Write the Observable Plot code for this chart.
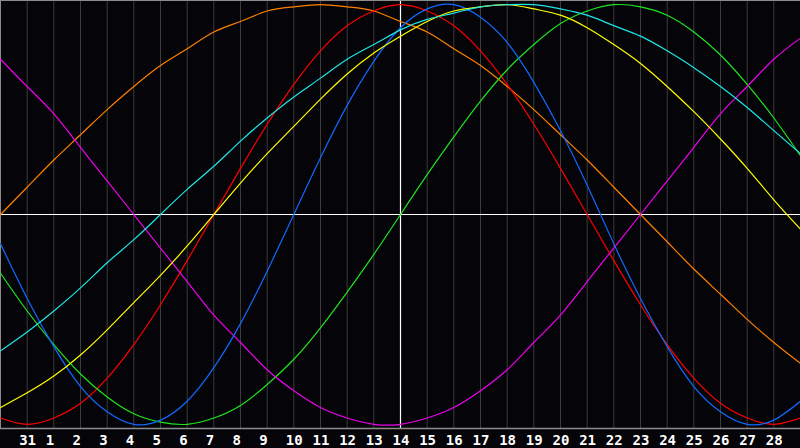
<!DOCTYPE html>
<html>
<head>
<meta charset="utf-8">
<script src="https://cdn.jsdelivr.net/npm/d3@7"></script>
<script src="https://cdn.jsdelivr.net/npm/@observablehq/plot@0.6"></script>
<style>
  html, body { margin: 0; padding: 0; background: #050408; }
  svg { display: block; }
  svg text { font-family: 'DejaVu Sans Mono', monospace; font-weight: bold; font-size: 14px; }
</style>
</head>
<body>
<div id="chart"></div>
<script>
// Day labels for each column (index 0 = Jan 30 ... index 30 = Mar 1)
const days = ["30","31","1","2","3","4","5","6","7","8","9","10","11","12","13","14","15","16","17","18","19","20","21","22","23","24","25","26","27","28","1"];
const labeledIdx = [1,2,3,4,5,6,7,8,9,10,11,12,13,14,15,16,17,18,19,20,21,22,23,24,25,26,27,28,29];
const todayIdx = 15;

// Cycle values per day (-1 .. 1)
const physical     = [-0.14,-0.40,-0.63,-0.82,-0.94,-1.00,-0.98,-0.89,-0.73,-0.52,-0.27,0,0.27,0.52,0.73,0.89,0.98,1.00,0.94,0.82,0.63,0.40,0.14,-0.14,-0.40,-0.63,-0.82,-0.94,-1.00,-0.98,-0.89];
const emotional    = [-0.97,-1.00,-0.97,-0.90,-0.78,-0.62,-0.43,-0.22,0,0.22,0.43,0.62,0.78,0.90,0.97,1.00,0.97,0.90,0.78,0.62,0.43,0.22,0,-0.22,-0.43,-0.62,-0.78,-0.90,-0.97,-1.00,-0.97];
const intellectual = [-0.28,-0.46,-0.62,-0.76,-0.87,-0.95,-0.99,-1.00,-0.97,-0.91,-0.81,-0.69,-0.54,-0.37,-0.19,0,0.19,0.37,0.54,0.69,0.81,0.91,0.97,1.00,0.99,0.95,0.87,0.76,0.62,0.46,0.28];
const intuitive    = [0.74,0.61,0.48,0.32,0.16,0,-0.16,-0.32,-0.48,-0.61,-0.74,-0.84,-0.92,-0.97,-1.00,-1.00,-0.97,-0.92,-0.84,-0.74,-0.61,-0.48,-0.32,-0.16,0,0.16,0.32,0.48,0.61,0.74,0.84];
const aesthetic    = [-0.92,-0.85,-0.77,-0.67,-0.55,-0.42,-0.29,-0.15,0,0.15,0.29,0.42,0.55,0.67,0.77,0.85,0.92,0.97,0.99,1.00,0.98,0.95,0.89,0.81,0.72,0.61,0.49,0.36,0.22,0.07,-0.07];
const awareness    = [0,0.13,0.26,0.38,0.50,0.61,0.71,0.79,0.87,0.92,0.97,0.99,1.00,0.99,0.97,0.92,0.87,0.79,0.71,0.61,0.50,0.38,0.26,0.13,0,-0.13,-0.26,-0.38,-0.50,-0.61,-0.71];
const spiritual    = [-0.65,-0.56,-0.46,-0.35,-0.23,-0.12,0,0.12,0.23,0.35,0.46,0.56,0.65,0.74,0.81,0.88,0.93,0.96,0.99,1.00,1.00,0.98,0.95,0.90,0.85,0.78,0.70,0.61,0.51,0.40,0.29];

const seriesNames  = ["Awareness","Emotional","Intellectual","Intuitive","Physical","Aesthetic","Spiritual"];
const seriesValues = [awareness, emotional, intellectual, intuitive, physical, aesthetic, spiritual];
const seriesColors = ["#ff8000","#ff0000","#1ee61e","#f000f0","#0f6bff","#ffff00","#1ee6e6"];

const rows = [];
seriesNames.forEach((name, s) => {
  seriesValues[s].forEach((v, i) => rows.push({series: name, i, v}));
});

const chart = Plot.plot({
  width: 800,
  height: 448,
  marginLeft: 0,
  marginRight: 0,
  marginTop: 0,
  marginBottom: 20,
  style: {background: "#050408", color: "white"},
  x: {domain: [0, 30], label: null},
  y: {domain: [-1.02, 1.02], axis: null},
  color: {domain: seriesNames, range: seriesColors},
  marks: [
    Plot.ruleX(labeledIdx, {stroke: "#3c3c3c", strokeWidth: 1}),
    Plot.ruleY([0], {stroke: "white", strokeWidth: 1.2}),
    Plot.ruleX([todayIdx], {stroke: "white", strokeWidth: 1.2}),
    Plot.ruleX([0], {stroke: "#8c8c8c", strokeWidth: 1}),
    Plot.ruleY([1.02], {stroke: "#8c8c8c", strokeWidth: 1}),
    Plot.ruleY([-1.02], {stroke: "#8c8c8c", strokeWidth: 1.5}),
    Plot.line(rows, {x: "i", y: "v", z: "series", stroke: "series", strokeWidth: 1.2, curve: "natural"}),
    Plot.axisX({ticks: labeledIdx, tickFormat: i => days[i], tickSize: 0, tickPadding: 7, textAnchor: "start", dx: -8, fill: "white", label: null})
  ]
});
chart.querySelectorAll("text").forEach(t => { t.setAttribute("fill", "white"); t.setAttribute("font-size", "14"); t.setAttribute("font-weight", "bold"); });
document.getElementById("chart").append(chart);
</script>
</body>
</html>
